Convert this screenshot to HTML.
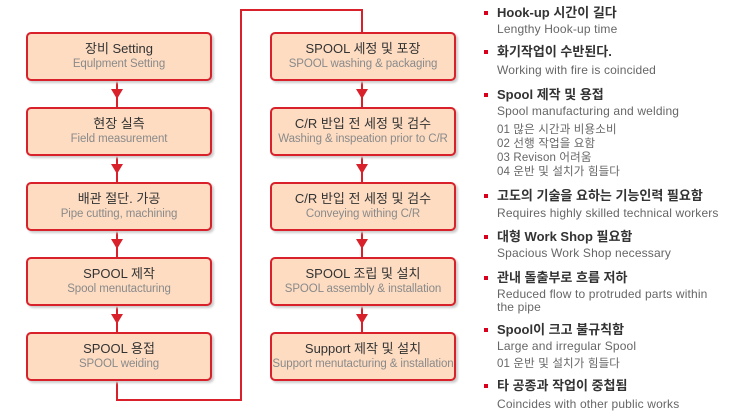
<!DOCTYPE html>
<html><head><meta charset="utf-8"><style>
body{margin:0;width:730px;height:410px;background:#fff;position:relative;overflow:hidden;font-family:"Liberation Sans","Noto Sans CJK KR",sans-serif}
.b{position:absolute;width:182px;height:45px;background:#fddcc2;border:2px solid #d8212a;border-radius:5px;box-shadow:2px 2px 2px #ccc;text-align:center;box-sizing:content-box}
.b .t{font-size:13px;color:#333;margin-top:7px;line-height:16px}
.b .s{font-size:11.5px;color:#8a8a8a;line-height:15px;white-space:nowrap;letter-spacing:-0.1px}
.r{position:absolute;left:497px;white-space:nowrap;line-height:16px}
.h{font-size:13px;font-weight:bold;color:#333}
.h:before{content:"";position:absolute;left:-13px;top:6px;width:4px;height:4px;background:#d8001c}
.g{font-size:12px;color:#666;letter-spacing:0.15px}
</style></head><body>
<svg width="730" height="410" style="position:absolute;left:0;top:0">
<g stroke="#d8212a" stroke-width="2" fill="none">
<polyline points="117,78 117,400 241,400 241,10 362,10 362,32"/>
<line x1="362" y1="78" x2="362" y2="333"/>
</g>
<g fill="#d8212a">
<polygon points="111,89 123,89 117,99"/><polygon points="111,164 123,164 117,174"/><polygon points="111,239 123,239 117,249"/><polygon points="111,314 123,314 117,324"/>
<polygon points="356,89 368,89 362,99"/><polygon points="356,164 368,164 362,174"/><polygon points="356,239 368,239 362,249"/><polygon points="356,314 368,314 362,324"/>
</g>
</svg>
<div class="b" style="left:26px;top:32px"><div class="t">장비 Setting</div><div class="s">Equlpment Setting</div></div>
<div class="b" style="left:26px;top:107px"><div class="t">현장 실측</div><div class="s">Field measurement</div></div>
<div class="b" style="left:26px;top:182px"><div class="t">배관 절단. 가공</div><div class="s">Pipe cutting, machining</div></div>
<div class="b" style="left:26px;top:257px"><div class="t">SPOOL 제작</div><div class="s">Spool menutacturing</div></div>
<div class="b" style="left:26px;top:332px"><div class="t">SPOOL 용접</div><div class="s">SPOOL weiding</div></div>
<div class="b" style="left:270px;top:32px"><div class="t">SPOOL 세정 및 포장</div><div class="s">SPOOL washing &amp; packaging</div></div>
<div class="b" style="left:270px;top:107px"><div class="t">C/R 반입 전 세정 및 검수</div><div class="s">Washing &amp; inspeation prior to C/R</div></div>
<div class="b" style="left:270px;top:182px"><div class="t">C/R 반입 전 세정 및 검수</div><div class="s">Conveying withing C/R</div></div>
<div class="b" style="left:270px;top:257px"><div class="t">SPOOL 조립 및 설치</div><div class="s">SPOOL assembly &amp; installation</div></div>
<div class="b" style="left:270px;top:332px"><div class="t">Support 제작 및 설치</div><div class="s">Support menutacturing &amp; installation</div></div>

<div class="r h" style="top:5px">Hook-up 시간이 길다</div>
<div class="r g" style="top:21px">Lengthy Hook-up time</div>
<div class="r h" style="top:44px">화기작업이 수반된다.</div>
<div class="r g" style="top:62px">Working with fire is coincided</div>
<div class="r h" style="top:87px">Spool 제작 및 용접</div>
<div class="r g" style="top:103px">Spool manufacturing and welding</div>
<div class="r g" style="top:122px;font-size:11.5px">01 많은 시간과 비용소비</div>
<div class="r g" style="top:136px;font-size:11.5px">02 선행 작업을 요함</div>
<div class="r g" style="top:150px;font-size:11.5px">03 Revison 어려움</div>
<div class="r g" style="top:164px;font-size:11.5px">04 운반 및 설치가 힘들다</div>
<div class="r h" style="top:188px">고도의 기술을 요하는 기능인력 필요함</div>
<div class="r g" style="top:205px">Requires highly skilled technical workers</div>
<div class="r h" style="top:229px">대형 Work Shop 필요함</div>
<div class="r g" style="top:245px">Spacious Work Shop necessary</div>
<div class="r h" style="top:270px">관내 돌출부로 흐름 저하</div>
<div class="r g" style="top:286px">Reduced flow to protruded parts within</div>
<div class="r g" style="top:299px">the pipe</div>
<div class="r h" style="top:322px">Spool이 크고 불규칙함</div>
<div class="r g" style="top:338px">Large and irregular Spool</div>
<div class="r g" style="top:356px;font-size:11.5px">01 운반 및 설치가 힘들다</div>
<div class="r h" style="top:378px">타 공종과 작업이 중첩됨</div>
<div class="r g" style="top:396px">Coincides with other public works</div>
</body></html>
